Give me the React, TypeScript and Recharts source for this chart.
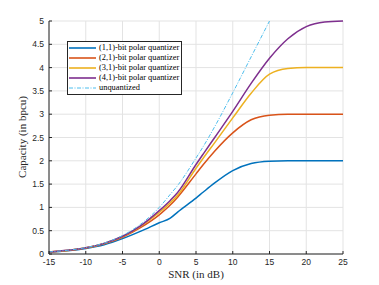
// Capacity vs SNR for polar quantizers, MATLAB-style figure.
import { LineChart, Line, XAxis, YAxis, CartesianGrid, Legend } from "recharts";

const snr = [-15, -12.5, -10, -7.5, -5, -2.5, 0, 1.5, 2.5, 5, 6, 7.5, 10, 12.5, 15, 17.5, 20, 22.5, 25];
const q11 = [0.04, 0.07, 0.12, 0.2, 0.33, 0.49, 0.67, 0.77, 0.9, 1.2, 1.33, 1.52, 1.79, 1.94, 1.99, 2, 2, 2, 2];
const q21 = [0.043, 0.076, 0.13, 0.22, 0.36, 0.57, 0.84, 1.05, 1.22, 1.72, 1.92, 2.2, 2.6, 2.88, 2.98, 3, 3, 3, 3];
const q31 = [0.044, 0.077, 0.133, 0.225, 0.375, 0.6, 0.89, 1.1, 1.26, 1.84, 2.06, 2.38, 2.92, 3.45, 3.86, 3.98, 4, 4, 4];
const q41 = [0.044, 0.078, 0.134, 0.228, 0.38, 0.61, 0.93, 1.15, 1.32, 1.92, 2.15, 2.49, 3.06, 3.66, 4.2, 4.62, 4.88, 4.98, 5];
const unq = [0.045, 0.08, 0.137, 0.234, 0.396, 0.644, 1.0, 1.28, 1.47, 2.06, 2.31, 2.72, 3.46, 4.23, 5.0, null, null, null, null];

const xTicks = [-15, -10, -5, 0, 5, 10, 15, 20, 25];
const yTicks = [0, 0.5, 1, 1.5, 2, 2.5, 3, 3.5, 4, 4.5, 5];

const series = [
  { key: "q11", name: "(1,1)-bit polar quantizer", color: "#0072BD", dash: undefined },
  { key: "q21", name: "(2,1)-bit polar quantizer", color: "#D95319", dash: undefined },
  { key: "q31", name: "(3,1)-bit polar quantizer", color: "#EDB120", dash: undefined },
  { key: "q41", name: "(4,1)-bit polar quantizer", color: "#7E2F8E", dash: undefined },
  { key: "unq", name: "unquantized", color: "#4DBEEE", dash: "4 1.5 1 1.5" },
];

const data = snr.map((x, i) => ({
  snr: x,
  q11: q11[i],
  q21: q21[i],
  q31: q31[i],
  q41: q41[i],
  unq: unq[i],
}));

const axisColor = "#262626";
const tickStyle = { fontSize: 8.5, fill: axisColor, fontFamily: "Liberation Sans, Arial, sans-serif" };
const serif = "Liberation Serif, Times New Roman, serif";

const LegendBox = () => (
  <div
    style={{
      border: `1px solid ${axisColor}`,
      background: "#fff",
      padding: "1px 2px 1px 1px",
      fontFamily: serif,
      fontSize: 8.4,
      color: "#000",
      lineHeight: "10px",
    }}
  >
    {series.map((s) => (
      <div key={s.key} style={{ display: "flex", alignItems: "center", height: 10 }}>
        <svg width={28} height={10} style={{ marginRight: 2 }}>
          <line
            x1={0}
            x2={27}
            y1={5}
            y2={5}
            stroke={s.color}
            strokeWidth={s.dash ? 1 : 1.6}
            strokeDasharray={s.dash}
          />
        </svg>
        <span style={{ whiteSpace: "nowrap" }}>{s.name}</span>
      </div>
    ))}
  </div>
);

export default function App() {
  return (
    <div style={{ position: "absolute", left: 0, top: 0, width: 379, height: 285, background: "#fff" }}>
      <LineChart width={379} height={285} data={data} margin={{ top: 21, right: 36, bottom: 0, left: 0 }}>
        <CartesianGrid stroke="#e3e3e3" strokeWidth={1} />
        <XAxis
          dataKey="snr"
          type="number"
          domain={[-15, 25]}
          ticks={xTicks}
          height={31}
          stroke={axisColor}
          tick={tickStyle}
          tickSize={-3}
          tickMargin={8}
          label={{
            content: () => (
              <text x={196} y={278} textAnchor="middle" fontFamily={serif} fontSize={11} fill={axisColor}>
                SNR (in dB)
              </text>
            ),
          }}
        />
        <XAxis
          xAxisId="top"
          dataKey="snr"
          orientation="top"
          type="number"
          domain={[-15, 25]}
          ticks={xTicks}
          height={0}
          stroke={axisColor}
          tick={false}
          tickSize={-3}
        />
        <YAxis
          type="number"
          domain={[0, 5]}
          ticks={yTicks}
          width={49}
          stroke={axisColor}
          tick={tickStyle}
          tickSize={-3}
          tickMargin={8}
          label={{
            content: () => (
              <text
                x={26}
                y={137}
                textAnchor="middle"
                transform="rotate(-90 26 137)"
                fontFamily={serif}
                fontSize={11}
                fill={axisColor}
              >
                Capacity (in bpcu)
              </text>
            ),
          }}
        />
        <YAxis
          yAxisId="right"
          orientation="right"
          type="number"
          domain={[0, 5]}
          ticks={yTicks}
          width={0}
          stroke={axisColor}
          tick={false}
          tickSize={-3}
        />
        <Legend
          layout="vertical"
          align="center"
          verticalAlign="middle"
          content={() => <LegendBox />}
          wrapperStyle={{ left: 67, top: 41, width: "auto" }}
        />
        {/* invisible series so the top and right box axes get drawn */}
        <Line
          xAxisId="top"
          yAxisId="right"
          dataKey="q11"
          stroke="none"
          dot={false}
          activeDot={false}
          legendType="none"
          isAnimationActive={false}
        />
        {series.map((s) => (
          <Line
            key={s.key}
            dataKey={s.key}
            name={s.name}
            type="monotone"
            stroke={s.color}
            strokeWidth={s.dash ? 1 : 1.5}
            strokeDasharray={s.dash}
            dot={false}
            activeDot={false}
            connectNulls={false}
            isAnimationActive={false}
          />
        ))}
      </LineChart>
    </div>
  );
}
